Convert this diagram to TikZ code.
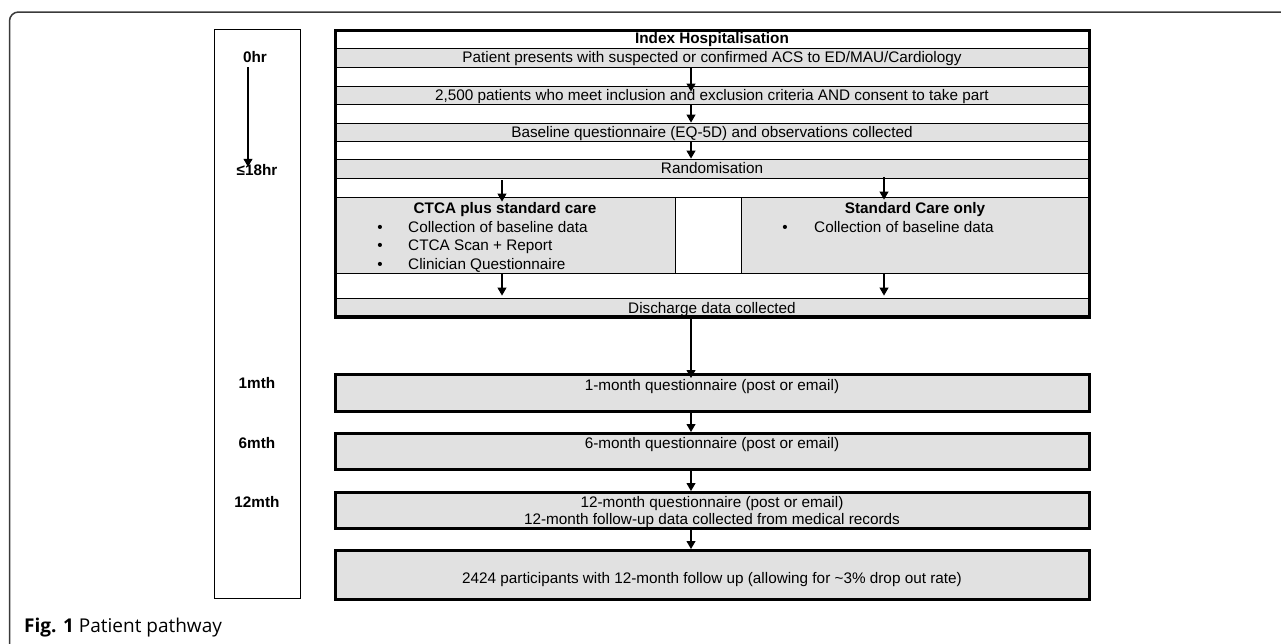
\documentclass[tikz,border=0pt]{standalone}
\usepackage{fontspec}
\setmainfont{Liberation Sans}
\newfontfamily\capfont{Open Sans}
\usepackage{tikz}
\usetikzlibrary{calc,arrows.meta}
\definecolor{boxgray}{HTML}{E1E1E1}
\definecolor{framegray}{HTML}{3A3A3A}
\tikzset{
	txt/.style={inner sep=0pt, text height=10pt, text depth=0pt, font=\fontsize{15.3}{17}\selectfont},
	tlab/.style={txt, font=\fontsize{15.3}{17}\selectfont\bfseries},
	cell/.style={txt, draw=black, line width=0.9pt, minimum width=756pt},
	graycell/.style={cell, fill=boxgray},
	bigbox/.style={draw=black, line width=3pt, fill=boxgray, inner sep=0pt, minimum width=754pt},
	arr/.style={line width=1.1pt, -{Triangle[width=9pt,length=8pt]}}
}

\begin{document}
\begin{tikzpicture}[x=1pt, y=-1pt]
		%%%%% START %%%%%
		
		\useasboundingbox (0,0) rectangle (1281,643);
		\clip (0,0) rectangle (1281,643);
		
		\draw[framegray, line width=1.5pt, rounded corners=9pt] (9.5,700) -- (9.5,12) -- (1300,12);
		
		% time line
		\node[draw, line width=1pt, minimum width=86pt, minimum height=569pt] (tl) at (257.5,314) {};
		\node[tlab] (t0) at (255,57) {0hr};
		\node[tlab] (t18) at (257,170) {≤18hr};
		\node[tlab] (t1) at (257,383) {1mth};
		\node[tlab] (t6) at (257,443) {6mth};
		\node[tlab] (t12) at (257,502) {12mth};
		\coordinate (tx) at (248,0);
		\draw[arr] ($(t0.south -| tx)+(0,5)$) -- ($(t18.north -| tx)+(0,2)$);
		
		% index hospitalisation
		\node[cell, minimum height=19pt, font=\fontsize{15.3}{17}\selectfont\bfseries] (hdr) at (712,38.5) {Index Hospitalisation};
		\node[graycell, minimum height=19pt] (pres) at (712,57.5) {Patient presents with suspected or confirmed ACS to ED/MAU/Cardiology};
		\node[graycell, minimum height=18pt] (elig) at (712,95) {2,500 patients who meet inclusion and exclusion criteria AND consent to take part};
		\node[graycell, minimum height=18pt] (base) at (712,132) {Baseline questionnaire (EQ-5D) and observations collected};
		\node[graycell, minimum height=19pt] (rand) at (712,168.5) {Randomisation};
		
		\node[cell, minimum height=76pt] (arms) at (712,235) {};
		\node[graycell, minimum width=341pt, minimum height=76pt] (armA) at (504.5,235) {};
		\node[graycell, minimum width=349pt, minimum height=76pt] (armB) at (915.5,235) {};
		
		\node[tlab] (armAh) at (505,208) {CTCA plus standard care};
		\node[txt] (bA1) at (380,227) {\textbullet};
		\node[txt, anchor=west] (iA1) at (408,227) {Collection of baseline data};
		\node[txt] (bA2) at (380,245) {\textbullet};
		\node[txt, anchor=west] (iA2) at (408,245) {CTCA Scan + Report};
		\node[txt] (bA3) at (380,264) {\textbullet};
		\node[txt, anchor=west] (iA3) at (408,264) {Clinician Questionnaire};
		
		\node[tlab] (armBh) at (915,208) {Standard Care only};
		\node[txt] (bB1) at (785,227) {\textbullet};
		\node[txt, anchor=west] (iB1) at (814,227) {Collection of baseline data};
		
		\node[graycell, minimum height=20pt] (disch) at (712,308) {Discharge data collected};
		
		\node[draw=black, line width=3pt, inner sep=0pt, minimum width=754pt, minimum height=286pt] (hosp) at (712,173.5) {};
		
		% follow up
		\node[bigbox, minimum height=37pt] (m1) at (712,393) {};
		\node[txt] (m1t) at (712,385) {1-month questionnaire (post or email)};
		\node[bigbox, minimum height=36pt] (m6) at (712,451.5) {};
		\node[txt] (m6t) at (712,443) {6-month questionnaire (post or email)};
		\node[bigbox, minimum height=36pt] (m12) at (712,510.5) {};
		\node[txt] (m12a) at (712,502) {12-month questionnaire (post or email)};
		\node[txt] (m12b) at (712,519) {12-month follow-up data collected from medical records};
		\node[bigbox, minimum height=49pt] (fin) at (712,575) {};
		\node[txt] (fint) at (712,578) {2424 participants with 12-month follow up (allowing for \textasciitilde3\% drop out rate)};
		
		% arrows
		\coordinate (cx) at (691,0);
		\coordinate (lx) at (502,0);
		\coordinate (rx) at (884,0);
		\draw[arr] (pres.south -| cx) -- ($(elig.north -| cx)+(0,6)$);
		\draw[arr] ($(elig.south -| cx)+(0,1)$) -- (base.north -| cx);
		\draw[arr] ($(base.south -| cx)+(0,1)$) -- (rand.north -| cx);
		\draw[arr] ($(rand.south -| lx)+(0,2)$) -- ($(armA.north -| lx)+(0,5)$);
		\draw[arr] ($(rand.south -| rx)+(0,-1)$) -- ($(armB.north -| rx)+(0,3)$);
		\draw[arr] (armA.south -| lx) -- ($(disch.north -| lx)+(0,-2)$);
		\draw[arr] (armB.south -| rx) -- ($(disch.north -| rx)+(0,-2)$);
		\draw[arr] (hosp.south -| cx) -- ($(m1.north -| cx)+(0,5)$);
		\draw[arr] (m1.south -| cx) -- (m6.north -| cx);
		\draw[arr] (m6.south -| cx) -- (m12.north -| cx);
		\draw[arr] (m12.south -| cx) -- (fin.north -| cx);
		
		\node[anchor=west, inner sep=0pt, text height=13pt, text depth=0pt, font=\capfont\fontsize{19}{22}\selectfont] (cap) at (24,625.5) {\textbf{Fig. 1} Patient pathway};
		
		%%%%% END %%%%%
	\end{tikzpicture}
\end{document}
